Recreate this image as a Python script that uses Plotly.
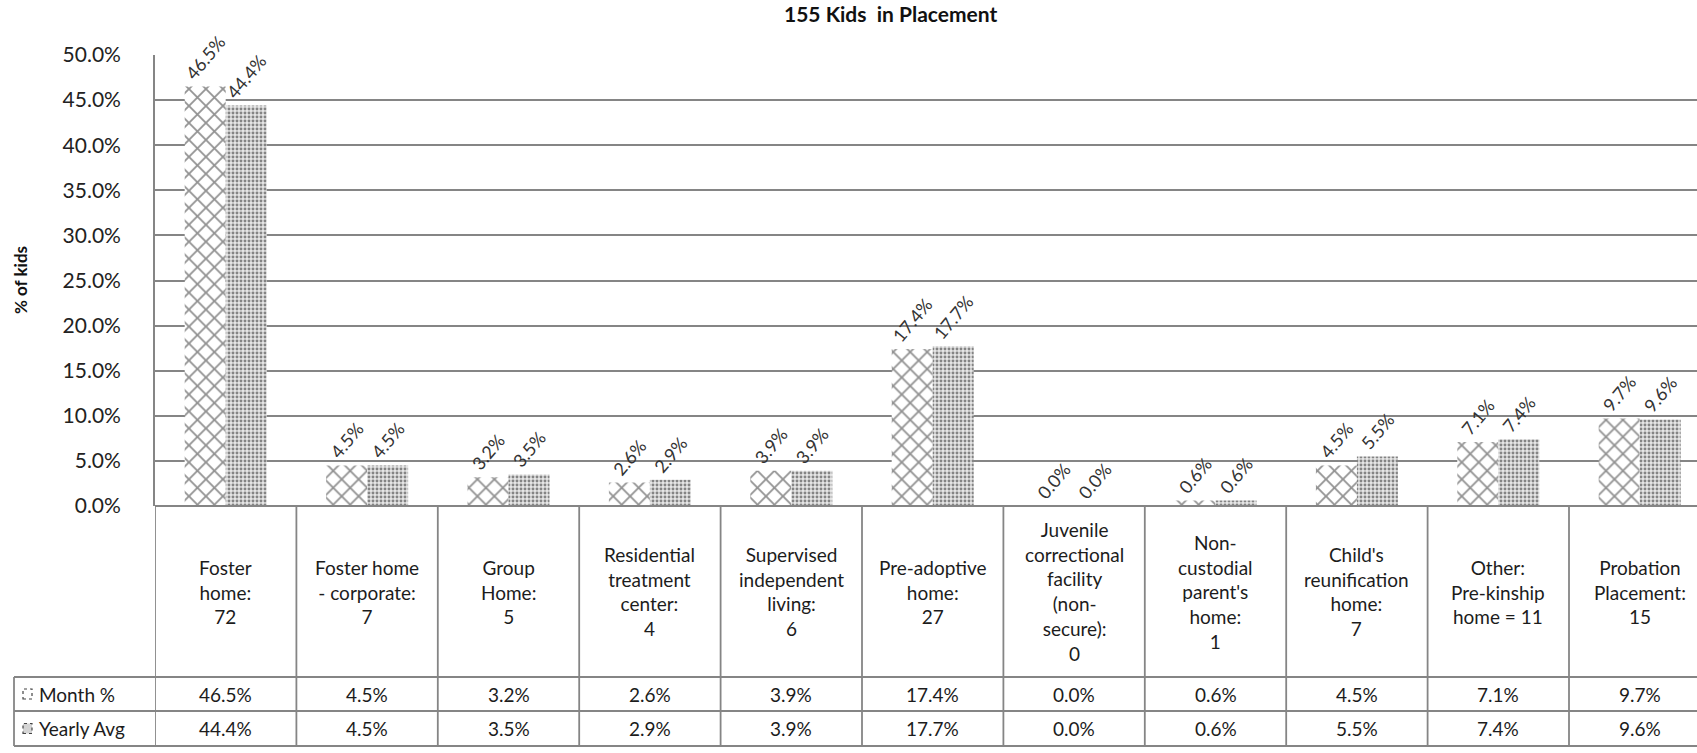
import plotly.graph_objects as go

# Placement categories (table header cells) and the two series, in percent
categories = [
    "Foster<br>home:<br>72",
    "Foster home<br>- corporate:<br>7",
    "Group<br>Home:<br>5",
    "Residential<br>treatment<br>center:<br>4",
    "Supervised<br>independent<br>living:<br>6",
    "Pre-adoptive<br>home:<br>27",
    "Juvenile<br>correctional<br>facility<br>(non-<br>secure):<br>0",
    "Non-<br>custodial<br>parent's<br>home:<br>1",
    "Child's<br>reunification<br>home:<br>7",
    "Other:<br>Pre-kinship<br>home = 11",
    "Probation<br>Placement:<br>15",
]
month_pct = [46.5, 4.5, 3.2, 2.6, 3.9, 17.4, 0.0, 0.6, 4.5, 7.1, 9.7]
yearly_avg = [44.4, 4.5, 3.5, 2.9, 3.9, 17.7, 0.0, 0.6, 5.5, 7.4, 9.6]
series_names = ["Month %", "Yearly Avg"]
y_ticks = [0.0, 0.05, 0.10, 0.15, 0.20, 0.25, 0.30, 0.35, 0.40, 0.45, 0.50]

W, H = 1697, 753
FONT = "Lato"
LINE = "#858585"
TEXT = "#1c1c1c"


def py(px):
    """Convert a pixel row (from top) to paper y."""
    return 1 - px / H


def pxx(px):
    return px / W


# layout geometry in pixels
axis_left = 155
col_w = 141.4
y_zero, y_top = 506, 55
row_cat_bottom, row_month_bottom, row_year_bottom = 677, 711, 746
legend_left = 14

x_pos = list(range(len(categories)))
month_frac = [v / 100 for v in month_pct]
yearly_frac = [v / 100 for v in yearly_avg]

label_font = dict(family=FONT, size=18, color="#333333")

fig = go.Figure()
fig.add_trace(go.Bar(
    x=x_pos, y=month_frac, name=series_names[0],
    marker=dict(color="white", line=dict(width=0),
                pattern=dict(shape="x", fgcolor="#262626", bgcolor="white",
                             size=12, solidity=0.28)),
    texttemplate="%{y:.1%}", textposition="outside", textangle=-50,
    textfont=label_font, constraintext="none", cliponaxis=False,
))
fig.add_trace(go.Bar(
    x=x_pos, y=yearly_frac, name=series_names[1],
    marker=dict(color="#e4e4e4", line=dict(width=0),
                pattern=dict(shape=".", fgcolor="#222222", bgcolor="#e6e6e6",
                             size=4, solidity=0.42)),
    texttemplate="%{y:.1%}", textposition="outside", textangle=-50,
    textfont=label_font, constraintext="none", cliponaxis=False,
))

n = len(categories)
x_max = -0.5 + (W - axis_left) / col_w

shapes = []
# table top (0% baseline) and horizontal row borders
shapes.append(dict(type="line", xref="paper", yref="paper",
                   x0=pxx(axis_left), x1=1, y0=py(y_zero), y1=py(y_zero),
                   line=dict(color=LINE, width=1.8)))
for yb in (row_cat_bottom, row_month_bottom, row_year_bottom):
    shapes.append(dict(type="line", xref="paper", yref="paper",
                       x0=pxx(legend_left), x1=1, y0=py(yb), y1=py(yb),
                       line=dict(color=LINE, width=1.8)))
# legend column left border
shapes.append(dict(type="line", xref="paper", yref="paper",
                   x0=pxx(legend_left), x1=pxx(legend_left),
                   y0=py(row_cat_bottom), y1=py(row_year_bottom),
                   line=dict(color=LINE, width=1.8)))
# column dividers
for i in range(n + 1):
    xd = i - 0.5
    shapes.append(dict(type="line", xref="x", yref="paper",
                       x0=xd, x1=xd, y0=py(y_zero), y1=py(row_year_bottom),
                       line=dict(color=LINE, width=1.8)))

# legend keys inside the table
key_y = [(row_cat_bottom + row_month_bottom) / 2, (row_month_bottom + row_year_bottom) / 2]
key_fill = ["white", "#d4d4d4"]
for ky, kf in zip(key_y, key_fill):
    shapes.append(dict(type="rect", xref="paper", yref="paper",
                       x0=pxx(23), x1=pxx(32), y0=py(ky + 5), y1=py(ky - 5),
                       fillcolor=kf, line=dict(color="#444", width=1.2, dash="dot")))

annotations = []
cat_mid = (y_zero + row_cat_bottom) / 2
for i, c in enumerate(categories):
    annotations.append(dict(x=i, y=py(cat_mid), xref="x", yref="paper",
                            text=c, showarrow=False, align="center",
                            xanchor="center", yanchor="middle",
                            font=dict(family=FONT, size=19, color=TEXT)))
    annotations.append(dict(x=i, y=py(key_y[0]), xref="x", yref="paper",
                            text=f"{month_pct[i]:.1f}%", showarrow=False,
                            xanchor="center", yanchor="middle",
                            font=dict(family=FONT, size=19, color=TEXT)))
    annotations.append(dict(x=i, y=py(key_y[1]), xref="x", yref="paper",
                            text=f"{yearly_avg[i]:.1f}%", showarrow=False,
                            xanchor="center", yanchor="middle",
                            font=dict(family=FONT, size=19, color=TEXT)))
for name, ky in zip(series_names, key_y):
    annotations.append(dict(x=pxx(37), y=py(ky), xref="paper", yref="paper",
                            text=name, showarrow=False, xanchor="left",
                            yanchor="middle",
                            font=dict(family=FONT, size=19, color=TEXT)))

# chart title and y-axis title
annotations.append(dict(x=pxx(890), y=py(14), xref="paper", yref="paper",
                        text="<b>155 Kids  in Placement</b>", showarrow=False,
                        xanchor="center", yanchor="middle",
                        font=dict(family=FONT, size=21, color="#111")))
annotations.append(dict(x=pxx(20), y=py(280), xref="paper", yref="paper",
                        text="<b>% of kids</b>", showarrow=False, textangle=-90,
                        xanchor="center", yanchor="middle",
                        font=dict(family=FONT, size=17, color="#111")))

fig.update_layout(
    width=W, height=H,
    margin=dict(l=0, r=0, t=0, b=0),
    paper_bgcolor="white", plot_bgcolor="white",
    barmode="group", bargap=0.42, bargroupgap=0,
    showlegend=False,
    shapes=shapes, annotations=annotations,
    xaxis=dict(domain=[pxx(axis_left), 1], range=[-0.5, x_max],
               showticklabels=False, showgrid=False, zeroline=False,
               showline=False, ticks="", automargin=False),
    yaxis=dict(domain=[py(y_zero), py(y_top)], range=[0, 0.5],
               tickvals=y_ticks, tickformat=".1%",
               tickfont=dict(family=FONT, size=21, color="#222222"),
               ticklabelstandoff=28,
               showgrid=True, gridcolor=LINE, gridwidth=1.5,
               zeroline=False, showline=True, linecolor=LINE, linewidth=1.8,
               ticks="", automargin=False),
)

fig.write_html("out.html")
